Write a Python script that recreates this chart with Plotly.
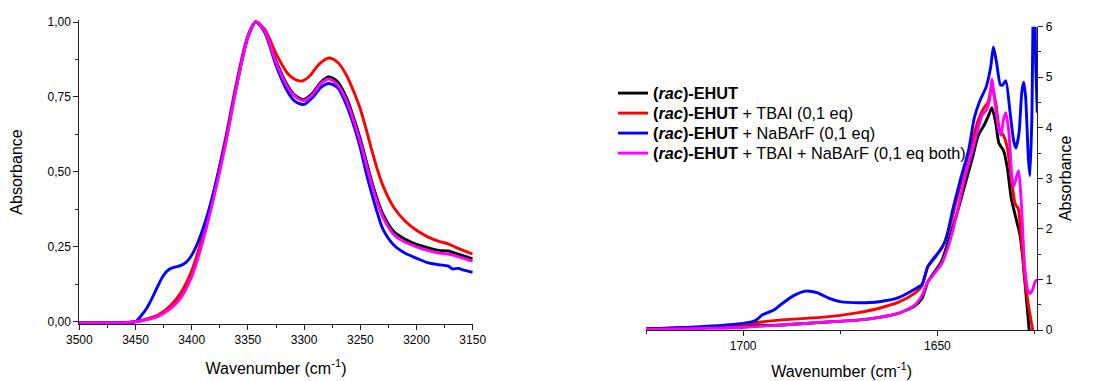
import plotly.graph_objects as go

# ---------------- Data: left panel (N-H region) ----------------
wn_left_black = [3500, 3480, 3460, 3450, 3440, 3430, 3420, 3410, 3400, 3390, 3380, 3370,
                 3360, 3350, 3343, 3335, 3325, 3315, 3308, 3300, 3292, 3285, 3278, 3270,
                 3262, 3255, 3250, 3245, 3240, 3235, 3230, 3220, 3210, 3200, 3190, 3180,
                 3172, 3165, 3158, 3150]
abs_left_black = [-0.004, -0.004, -0.003, 0.0, 0.008, 0.02, 0.045, 0.085, 0.16, 0.28, 0.43, 0.60,
                  0.79, 0.95, 1.0, 0.97, 0.87, 0.79, 0.755, 0.742, 0.765, 0.80, 0.817, 0.80,
                  0.745, 0.67, 0.61, 0.54, 0.47, 0.41, 0.36, 0.30, 0.275, 0.258, 0.247, 0.238,
                  0.236, 0.228, 0.22, 0.21]

wn_left_red = [3500, 3480, 3460, 3450, 3440, 3430, 3420, 3410, 3400, 3390, 3380, 3370,
               3360, 3350, 3343, 3335, 3325, 3315, 3308, 3302, 3295, 3287, 3278, 3270,
               3262, 3255, 3250, 3245, 3240, 3235, 3230, 3220, 3210, 3200, 3190, 3180,
               3172, 3165, 3158, 3150]
abs_left_red = [-0.004, -0.004, -0.003, 0.0, 0.009, 0.022, 0.05, 0.095, 0.17, 0.29, 0.44, 0.61,
                0.80, 0.955, 1.0, 0.975, 0.895, 0.83, 0.808, 0.803, 0.82, 0.858, 0.88, 0.865,
                0.82, 0.76, 0.71, 0.645, 0.575, 0.51, 0.455, 0.38, 0.335, 0.305, 0.283, 0.268,
                0.26, 0.248, 0.237, 0.226]

wn_left_blue = [3500, 3480, 3460, 3450, 3445, 3440, 3435, 3430, 3425, 3420, 3415, 3410, 3405,
                3400, 3395, 3390, 3385, 3380, 3370, 3360, 3350, 3343, 3335, 3325, 3315, 3308,
                3300, 3292, 3285, 3278, 3270, 3262, 3255, 3250, 3245, 3240, 3235, 3230, 3220,
                3210, 3200, 3190, 3180, 3172, 3168, 3163, 3158, 3150]
abs_left_blue = [-0.004, -0.004, -0.003, 0.0, 0.02, 0.045, 0.08, 0.12, 0.155, 0.175, 0.182, 0.187, 0.198,
                 0.222, 0.26, 0.31, 0.37, 0.44, 0.60, 0.79, 0.95, 1.0, 0.965, 0.855, 0.77, 0.735,
                 0.725, 0.75, 0.782, 0.795, 0.78, 0.72, 0.645, 0.58, 0.50, 0.43, 0.365, 0.31, 0.255,
                 0.228, 0.212, 0.197, 0.19, 0.186, 0.176, 0.178, 0.172, 0.165]

wn_left_mag = [3500, 3480, 3460, 3450, 3440, 3430, 3420, 3410, 3400, 3390, 3380, 3370,
               3360, 3350, 3343, 3335, 3325, 3315, 3308, 3300, 3292, 3285, 3278, 3270,
               3262, 3255, 3250, 3245, 3240, 3235, 3230, 3220, 3210, 3200, 3190, 3180,
               3172, 3165, 3158, 3150]
abs_left_mag = [-0.004, -0.004, -0.003, 0.0, 0.007, 0.018, 0.04, 0.078, 0.15, 0.27, 0.42, 0.59,
                0.785, 0.95, 1.0, 0.97, 0.865, 0.785, 0.752, 0.738, 0.76, 0.795, 0.81, 0.79,
                0.735, 0.66, 0.60, 0.53, 0.46, 0.40, 0.35, 0.29, 0.265, 0.25, 0.238, 0.229,
                0.226, 0.219, 0.211, 0.202]

# ---------------- Data: right panel (C=O region) ----------------
wn_right_black = [1725, 1710, 1700, 1690, 1680, 1670, 1665, 1660, 1656, 1654, 1652.5, 1651,
                  1649, 1647, 1645, 1643, 1641, 1639.5, 1638, 1636.8, 1636, 1635, 1634.2,
                  1633, 1632, 1631, 1629.6, 1628.8, 1628, 1627.2, 1626.4, 1625.8]
abs_right_black = [0.02, 0.05, 0.08, 0.10, 0.15, 0.20, 0.25, 0.33, 0.47, 0.62, 0.95, 1.12,
                   1.35, 1.8, 2.3, 2.85, 3.4, 3.85, 4.05, 4.25, 4.4, 4.1, 3.7,
                   3.55, 3.2, 2.6, 2.15, 1.9, 1.4, 0.7, 0.0, -0.6]

wn_right_red = [1725, 1710, 1700, 1697, 1694, 1690, 1680, 1675, 1670, 1665, 1660, 1656, 1654,
                1652.5, 1651, 1649, 1647, 1645, 1643, 1641, 1639.5, 1638, 1637, 1636, 1635,
                1634, 1633, 1632, 1631, 1630, 1629.2, 1628.4, 1627.5, 1626.5, 1625.5, 1625]
abs_right_red = [0.02, 0.06, 0.10, 0.14, 0.17, 0.20, 0.25, 0.29, 0.35, 0.43, 0.55, 0.72, 0.87,
                 1.25, 1.42, 1.6, 2.0, 2.6, 3.2, 3.75, 4.15, 4.4, 4.5, 4.8, 4.5,
                 3.95, 3.85, 3.6, 3.0, 2.5, 2.4, 1.8, 1.0, 0.45, 0.0, -0.4]

wn_right_blue = [1725, 1710, 1700, 1697, 1695, 1692, 1690, 1687, 1684, 1681, 1678, 1675, 1670,
                 1665, 1660, 1656, 1654, 1652.5, 1650.5, 1648, 1646, 1644, 1642, 1640.5, 1639,
                 1637.5, 1636.3, 1635.6, 1634.8, 1633.8, 1633.2, 1632.4, 1631.3, 1630.4, 1629.8,
                 1629.0, 1628.3, 1627.8, 1627.3, 1626.6, 1626.2, 1625.7, 1625.3, 1625.0, 1624.7,
                 1624.3]
abs_right_blue = [0.02, 0.07, 0.13, 0.18, 0.30, 0.40, 0.52, 0.68, 0.77, 0.74, 0.63, 0.56, 0.54,
                  0.56, 0.64, 0.80, 0.90, 1.25, 1.45, 1.75, 2.4, 3.0, 3.55, 4.2, 4.55,
                  4.8, 5.2, 5.6, 5.3, 4.85, 4.85, 4.93, 4.3, 3.75, 3.6,
                  3.9, 4.7, 4.9, 4.6, 3.4, 3.05, 4.2, 6.4, 6.6, 5.2,
                  4.3]

wn_right_mag = [1725, 1710, 1700, 1690, 1680, 1670, 1665, 1660, 1656, 1654, 1652.5, 1651,
                1649, 1647, 1645, 1643, 1641, 1639.5, 1638.5, 1637.4, 1636.6, 1636, 1635.2,
                1634.4, 1633.7, 1632.9, 1632.4, 1631.6, 1630.8, 1630.3, 1629.6, 1629.1,
                1628.4, 1627.6, 1626.8, 1626.2, 1625.5, 1624.9, 1624.3]
abs_right_mag = [0.01, 0.03, 0.05, 0.10, 0.15, 0.20, 0.25, 0.33, 0.48, 0.68, 0.95, 1.1,
                 1.3, 1.7, 2.3, 3.0, 3.55, 4.0, 4.25, 4.35, 4.55, 4.96, 4.5,
                 4.05, 3.85, 4.2, 4.3, 3.9, 3.0, 2.85, 3.05, 3.15,
                 2.5, 1.3, 0.8, 0.72, 0.8, 0.95, 1.0]

labels = ["<b>(<i>rac</i>)-EHUT</b>",
          "<b>(<i>rac</i>)-EHUT</b> + TBAI (0,1 eq)",
          "<b>(<i>rac</i>)-EHUT</b> + NaBArF (0,1 eq)",
          "<b>(<i>rac</i>)-EHUT</b> + TBAI + NaBArF (0,1 eq both)"]
colors = ["#000000", "#FF0000", "#0000FF", "#FF00FF"]
legend_ids = ["legend", "legend2", "legend3", "legend4"]

left_ticks = [0.0, 0.25, 0.5, 0.75, 1.0]
left_ticktext = ["0,00", "0,25", "0,50", "0,75", "1,00"]

left_sets = [(wn_left_black, abs_left_black), (wn_left_red, abs_left_red),
             (wn_left_blue, abs_left_blue), (wn_left_mag, abs_left_mag)]
right_sets = [(wn_right_black, abs_right_black), (wn_right_red, abs_right_red),
              (wn_right_blue, abs_right_blue), (wn_right_mag, abs_right_mag)]

LW = 2.9
fig = go.Figure()
for (x, y), c, lab in zip(left_sets, colors, labels):
    fig.add_trace(go.Scatter(x=x, y=y, mode="lines", line=dict(color=c, width=LW, shape="spline", smoothing=0.8),
                             name=lab, showlegend=False, xaxis="x", yaxis="y"))
for (x, y), c, lab, lg in zip(right_sets, colors, labels, legend_ids):
    fig.add_trace(go.Scatter(x=x, y=y, mode="lines", line=dict(color=c, width=LW, shape="spline", smoothing=0.6),
                             name=lab, showlegend=True, legend=lg, xaxis="x2", yaxis="y2"))

# The page body has an 8 px margin; work in page pixels and convert.
OFF = 8
W, H = 1102 - OFF, 381 - OFF


def fx(px):
    return (px - OFF) / W


def fy(py):
    return 1 - (py - OFF) / H


font = dict(family="Liberation Sans, Arial, sans-serif", size=12, color="#000000")
axcommon = dict(showgrid=False, zeroline=False, showline=True, linecolor="#222222", linewidth=1,
                ticks="outside", ticklen=5, tickwidth=1, tickcolor="#222222", automargin=False,
                tickfont=dict(size=12), title_font=dict(size=16))

leg_common = dict(xanchor="left", yanchor="top", bgcolor="rgba(0,0,0,0)", borderwidth=0,
                  font=dict(size=16.3, color="#000000"), itemwidth=30)
leg_top = [76, 96, 116, 136]
leg_x = 613

fig.update_layout(
    width=W, height=H, margin=dict(l=0, r=0, t=0, b=0),
    paper_bgcolor="white", plot_bgcolor="white", font=font, template="none",
    xaxis=dict(domain=[fx(79.3), fx(472.7)], range=[3500, 3150], anchor="y",
               tickvals=[3500, 3450, 3400, 3350, 3300, 3250, 3200, 3150],
               minor=dict(ticks="outside", ticklen=3, dtick=25, tick0=3500, tickcolor="#222222"),
               title=dict(text="Wavenumber (cm<sup>-1</sup>)", standoff=16), **axcommon),
    yaxis=dict(domain=[fy(324), fy(20)], range=[-0.0077, 1.0067], anchor="x",
               tickvals=left_ticks, ticktext=left_ticktext,
               minor=dict(ticks="outside", ticklen=3, dtick=0.125, tick0=0, tickcolor="#222222"),
               title=dict(text="Absorbance", standoff=20), **axcommon),
    xaxis2=dict(domain=[fx(646), fx(1037.3)], range=[1725, 1624.3], anchor="y2",
                tickvals=[1700, 1650],
                minor=dict(ticks="outside", ticklen=3, dtick=25, tick0=1725, tickcolor="#222222"),
                title=dict(text="Wavenumber (cm<sup>-1</sup>)", standoff=13), **axcommon),
    yaxis2=dict(domain=[fy(330), fy(26.7)], range=[0, 6], anchor="x2", side="right",
                tickvals=[0, 1, 2, 3, 4, 5, 6],
                minor=dict(ticks="outside", ticklen=3, dtick=0.5, tick0=0, tickcolor="#222222"),
                title=dict(text="Absorbance", standoff=8), **axcommon),
    legend=dict(x=fx(leg_x), y=fy(leg_top[0]), **leg_common),
    legend2=dict(x=fx(leg_x), y=fy(leg_top[1]), **leg_common),
    legend3=dict(x=fx(leg_x), y=fy(leg_top[2]), **leg_common),
    legend4=dict(x=fx(leg_x), y=fy(leg_top[3]), **leg_common),
)

fig.write_html("out.html")
